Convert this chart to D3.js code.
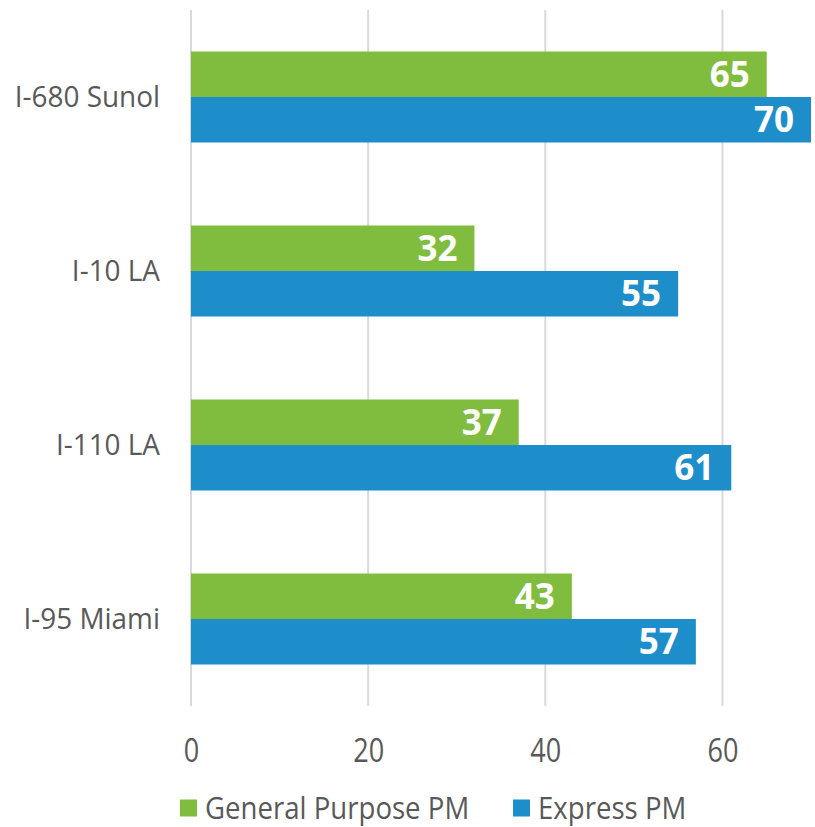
<!DOCTYPE html>
<html>
<head>
<meta charset="utf-8">
<script src="https://cdn.jsdelivr.net/npm/d3@7"></script>
<style>
  body { margin: 0; background: #fff; }
  text { font-family: "Open Sans", sans-serif; }
</style>
</head>
<body>
<svg id="chart" width="815" height="827"></svg>
<script>
const corridors = ["I-680 Sunol", "I-10 LA", "I-110 LA", "I-95 Miami"];
const seriesNames = ["General Purpose PM", "Express PM"];
const generalPurpose = [65, 32, 37, 43];
const expressLanes = [70, 55, 61, 57];
const xTicks = [0, 20, 40, 60];

const colours = { "General Purpose PM": "#80bd3e", "Express PM": "#1e8ecb" };

const svg = d3.select("#chart");
const plot = { left: 191, right: 811, top: 10, bottom: 706 };

const rows = corridors.map((c, i) => ({
  corridor: c,
  values: [
    { series: seriesNames[0], value: generalPurpose[i] },
    { series: seriesNames[1], value: expressLanes[i] }
  ]
}));

const xScale = d3.scaleLinear().domain([0, 70]).range([plot.left, plot.right]);
const yScale = d3.scaleBand().domain(corridors)
  .range([plot.top, plot.bottom]).paddingInner(0.477).paddingOuter(0.2385);
const subScale = d3.scaleBand().domain(seriesNames).range([0, yScale.bandwidth()]);

// squeeze text horizontally, the original font is a bit narrower
function squeeze(sel, k) {
  sel.each(function () {
    const len = this.getComputedTextLength();
    d3.select(this).attr("textLength", len * k).attr("lengthAdjust", "spacingAndGlyphs");
  });
}

// gridlines
svg.append("g").selectAll("line").data(xTicks).join("line")
  .attr("x1", d => xScale(d)).attr("x2", d => xScale(d))
  .attr("y1", plot.top).attr("y2", plot.bottom)
  .attr("stroke", "#d9d9d9").attr("stroke-width", 2);

// x tick labels
const xAxis = svg.append("g")
  .attr("transform", `translate(0, ${plot.bottom})`)
  .call(d3.axisBottom(xScale).tickValues(xTicks).tickSize(0).tickPadding(33));
xAxis.select(".domain").remove();
xAxis.selectAll("text")
  .attr("font-family", "Open Sans").attr("font-size", 33).attr("fill", "#595959")
  .call(squeeze, 0.82);

// y labels
const yAxis = svg.append("g")
  .attr("transform", `translate(160, 0)`)
  .call(d3.axisLeft(yScale).tickSize(0).tickPadding(0));
yAxis.select(".domain").remove();
yAxis.selectAll("text")
  .attr("font-family", "Open Sans").attr("font-size", 30).attr("fill", "#595959")
  .call(squeeze, 0.93);

// bars
const groups = svg.append("g").selectAll("g.row").data(rows).join("g")
  .attr("class", "row")
  .attr("transform", d => `translate(0, ${yScale(d.corridor)})`);

groups.selectAll("rect").data(d => d.values).join("rect")
  .attr("x", xScale(0))
  .attr("y", d => subScale(d.series))
  .attr("width", d => xScale(d.value) - xScale(0))
  .attr("height", subScale.bandwidth())
  .attr("fill", d => colours[d.series]);

groups.selectAll("text.val").data(d => d.values).join("text")
  .attr("class", "val")
  .attr("x", d => xScale(d.value) - 17)
  .attr("y", d => subScale(d.series) + subScale.bandwidth() / 2)
  .attr("dy", "0.36em")
  .attr("text-anchor", "end")
  .attr("font-size", 35).attr("font-weight", "bold").attr("fill", "#fff")
  .text(d => d.value);

// legend
const legend = svg.append("g").attr("transform", "translate(0, 808)");
const legendX = [180, 513];
const items = legend.selectAll("g").data(seriesNames).join("g")
  .attr("transform", (d, i) => `translate(${legendX[i]}, 0)`);
items.append("rect").attr("x", 0).attr("y", -8.5).attr("width", 17).attr("height", 17)
  .attr("fill", d => colours[d]);
items.append("text").attr("x", 25).attr("y", 0).attr("dy", "0.36em")
  .attr("font-size", 31).attr("fill", "#595959")
  .text(d => d)
  .call(squeeze, 0.89);
</script>
</body>
</html>
